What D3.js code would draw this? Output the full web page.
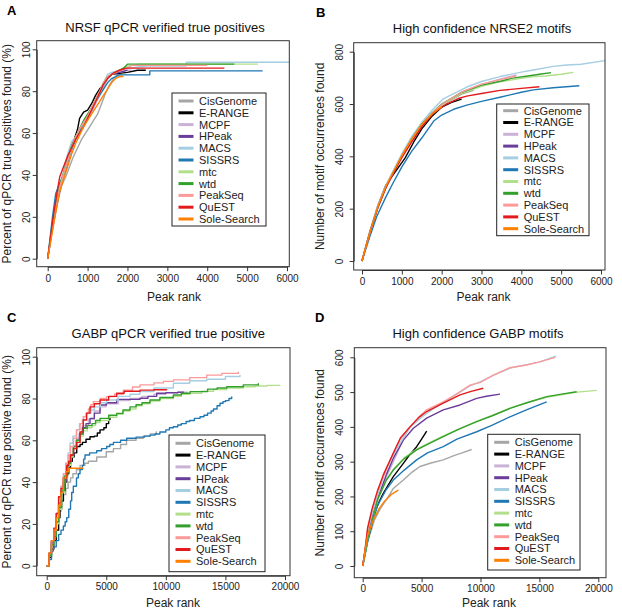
<!DOCTYPE html>
<html><head><meta charset="utf-8">
<script src="https://cdn.jsdelivr.net/npm/d3@7"></script>
<style>
body{margin:0;background:#fff}
svg{display:block;font-family:"Liberation Sans",Arial,Helvetica,sans-serif}
</style>
</head><body>
<svg id="chart" width="622" height="615"></svg>
<script>
// ---------------- data ----------------
const methods = ["CisGenome","E-RANGE","MCPF","HPeak","MACS","SISSRS","mtc","wtd","PeakSeq","QuEST","Sole-Search"];
const methodColors = ["#a6a6a6","#000000","#cab2d6","#6a3d9a","#a6cee3","#1f78b4","#b2df8a","#33a02c","#fb9a99","#e31a1c","#ff7f00"];

const ticksRank6k = [0,1000,2000,3000,4000,5000,6000];
const ticksRank20k = [0,5000,10000,15000,20000];
const ticksPct = [0,20,40,60,80,100];
const ticksNrse = [0,200,400,600,800];
const ticksGabp = [0,100,200,300,400,500,600];

// A: NRSF qPCR verified true positives  [peak rank, percent]
const nrsfQpcr = [
 [[0,0],[60,8],[150,17],[250,27],[350,35],[450,39],[550,44],[650,49],[750,53],[850,57],[950,60],[1050,63],[1150,66],[1250,69],[1350,74],[1450,79],[1550,83],[1650,86],[1750,88],[1850,88]],
 [[0,0],[80,10],[150,18],[250,28],[350,37],[450,43],[550,50],[650,56],[750,62],[800,67],[900,70],[1000,71],[1100,74],[1200,78],[1300,81],[1400,83],[1500,86],[1600,88],[1800,88.5],[2000,89],[2250,90],[2460,90]],
 [[0,0],[100,12],[200,23],[300,33],[400,40],[500,47],[600,53],[700,57],[800,61],[900,64],[1000,67],[1100,70],[1200,74],[1300,78],[1400,82],[1500,86],[1600,88],[1700,89],[1900,90],[2100,90]],
 [[0,0],[100,13],[200,24],[300,34],[400,41],[500,48],[600,53],[700,58],[800,62],[900,65],[1000,68],[1100,71],[1200,75],[1300,79],[1400,83],[1500,86],[1600,88],[1800,89],[2000,90]],
 [[0,0],[100,14],[200,25],[300,35],[400,42],[500,50],[600,56],[700,58],[800,61],[900,64],[1000,67],[1100,71],[1200,75],[1300,79],[1400,84],[1500,88],[1600,89],[1800,90],[2000,91],[2500,92],[3475,92],[3475,93.8],[6300,93.8]],
 [[0,0],[60,10],[120,20],[200,31],[300,36],[400,40],[500,46],[600,52],[700,57],[800,61],[900,65],[1000,68],[1100,72],[1200,75],[1300,78],[1400,81],[1500,84],[1600,86],[1800,87.8],[2560,87.8],[2560,89.7],[5390,89.7]],
 [[0,0],[100,12],[200,24],[300,34],[400,40],[500,47],[600,53],[700,58],[800,62],[900,65],[1000,68],[1100,72],[1200,75],[1300,79],[1400,83],[1500,86],[1600,88],[1800,90],[2000,92],[2300,92.9],[5270,92.9]],
 [[0,0],[100,13],[200,25],[300,35],[400,41],[500,48],[600,54],[700,58],[800,62],[900,66],[1000,69],[1100,72],[1200,76],[1300,80],[1400,84],[1500,87],[1700,89],[1900,91],[2000,92.9],[4680,92.9]],
 [[0,0],[100,12],[200,24],[300,34],[400,41],[500,47],[600,53],[700,58],[800,62],[900,65],[1000,68],[1100,72],[1200,76],[1300,80],[1400,84],[1500,87],[1700,89],[2000,91],[2100,92.3],[4000,92.3]],
 [[0,0],[70,10],[140,20],[220,30],[300,39],[400,44],[500,49],[600,53],[700,57],[800,60],[900,63],[1000,67],[1140,72.6],[1250,77],[1390,83],[1500,86],[1640,88.6],[1800,90],[1970,91],[4430,91]],
 [[0,0],[100,11],[200,22],[300,32],[400,38],[500,44],[600,50],[700,55],[800,59],[900,63],[1000,66],[1100,69],[1200,72],[1300,75],[1400,78],[1500,81],[1600,84],[1700,86],[1800,87],[1900,87]]
];

// B: High confidence NRSE2 motifs  [peak rank, motif occurrences]
const nrseMotifs = [
 [[0,0],[100,55],[200,108],[400,205],[600,280],[800,340],[1000,398],[1250,462],[1500,518],[1750,558],[2000,592],[2250,618],[2500,638],[2800,652]],
 [[0,0],[100,58],[200,113],[400,212],[600,290],[830,340],[1080,393],[1300,455],[1500,505],[1750,552],[2000,588],[2250,606],[2500,619]],
 [[0,0],[100,55],[200,110],[400,207],[600,282],[800,342],[1000,400],[1250,465],[1500,520],[1750,562],[2000,597],[2500,645],[3000,675],[3500,697],[3880,711]],
 [[0,0],[100,55],[200,110],[400,206],[600,281],[800,341],[1000,400],[1250,464],[1500,519],[1750,560],[2000,595],[2500,640],[2900,668]],
 [[0,0],[100,60],[200,115],[400,215],[600,290],[800,350],[1000,410],[1250,476],[1500,530],[1750,575],[2040,620],[2630,665],[3000,686],[3465,705],[4000,722],[4300,730],[4800,744],[5140,749],[5500,752],[6100,766]],
 [[0,0],[100,48],[200,95],[368,169],[600,245],[786,300],[1000,360],[1250,420],[1500,470],[1800,535],[2000,558],[2300,580],[2630,596],[3000,610],[3465,626],[4000,645],[4300,654],[4800,662],[5455,670]],
 [[0,0],[100,55],[200,110],[400,206],[600,282],[800,342],[1000,400],[1250,465],[1500,520],[1750,560],[2000,595],[2500,640],[3000,668],[3465,685],[4000,698],[4300,705],[4600,707],[5000,714],[5306,721]],
 [[0,0],[100,55],[200,110],[400,206],[600,283],[800,343],[1000,402],[1250,467],[1500,523],[1750,565],[2000,600],[2500,645],[3000,672],[3500,688],[3740,698],[4200,708],[4500,715],[4745,720]],
 [[0,0],[100,55],[200,110],[400,207],[600,283],[800,343],[1000,401],[1250,466],[1500,521],[1750,563],[2000,598],[2500,646],[3000,676],[3500,694],[3870,707]],
 [[0,0],[100,55],[200,110],[400,205],[600,280],[800,340],[1000,395],[1250,455],[1500,513],[1790,565],[2126,600],[2400,620],[2628,630],[3000,640],[3465,652],[4000,660],[4452,666]],
 [[0,0],[100,56],[200,111],[400,208],[600,285],[800,345],[1000,403],[1250,467],[1500,522],[1750,560],[2000,590]]
];

// C: GABP qPCR verified true positive  [peak rank, percent]
const gabpQpcr = [
 [[0,0],[200,5],[400,11],[600,16],[800,21],[1000,26],[1200,31],[1400,34],[1600,37],[1800,40],[2000,42],[2200,44],[2500,46],[2800,48],[3200,49],[3500,50],[4200,52],[5000,54.5],[5600,56],[6200,58],[6700,60],[7500,61],[8100,62],[8700,63],[9200,64],[9250,64]],
 [[0,0],[200,4],[400,8],[600,12],[800,17],[1000,23],[1115,27],[1250,31],[1400,36],[1550,40],[1680,44],[1850,47],[2000,50],[2150,52],[2300,54],[2520,57],[2800,58],[3000,59],[3300,60.5],[3635,61.7],[4000,62],[4250,63.5],[4475,65],[4800,66],[5000,68],[5200,70],[5310,71.3]],
 [[0,0],[200,6],[400,11],[600,16],[800,23],[1000,30],[1200,35],[1400,40],[1600,45],[1800,49],[2000,53],[2250,57],[2500,61],[2750,64],[3000,67],[3500,70],[4000,74],[4500,76],[5000,77.5],[6000,79],[7000,80],[8000,81],[9000,82],[10000,82.5],[11000,83],[11800,83.3]],
 [[0,0],[200,6],[400,11],[600,16],[800,23],[1000,30],[1200,35],[1400,40],[1600,45],[1800,49],[2000,53],[2250,57],[2500,60],[2750,63],[3000,66],[3300,68],[3635,70.5],[4000,73],[4475,76.9],[5000,78],[5875,79.6],[7830,80.1],[8500,81],[9230,82.5],[10000,82.8],[11000,83],[11465,83.3]],
 [[0,0],[200,6],[400,12],[600,17],[800,25],[1000,32],[1200,38],[1400,43],[1600,49],[1800,54],[1955,58.6],[2200,62],[2500,65],[2750,68],[3000,70],[3355,72.9],[3700,74.5],[4000,76],[4500,78],[5035,79.3],[6000,81],[7000,82],[7830,83.3],[9000,85],[10630,87.3],[12000,88.5],[13430,89.2],[15000,90.5],[16225,91.2]],
 [[0,0],[200,3],[400,7],[560,9],[800,12],[1000,15],[1200,17],[1400,19],[1550,21],[1680,23],[1850,27],[2000,31],[2100,35],[2235,38],[2500,42],[2650,44],[2795,46],[3000,48],[3100,51],[3215,53],[3600,54],[4200,55],[4600,56],[5035,57],[5300,58],[5600,59],[6200,60],[6714,61],[7500,61.5],[8200,62],[8670,62.5],[9100,63],[9500,64],[10000,65],[10300,66],[10630,66.5],[11000,67.3],[11300,68],[11700,69],[12000,69.5],[12400,70.5],[12870,71.3],[13200,72],[13500,73],[13800,74],[14000,75],[14300,76.5],[14545,77.7],[14800,78.5],[15000,79],[15300,80],[15525,81]],
 [[0,0],[200,5],[400,10],[600,14],[800,20],[1000,27],[1250,35],[1500,42],[1750,48],[2000,52],[2235,56],[2500,59],[2800,62],[3070,64.5],[3400,66],[3800,67],[4100,68.5],[4475,69.5],[5200,71],[5875,72.5],[6400,74],[7000,75],[7500,76.5],[8000,77.5],[8670,78.8],[9500,80],[10630,81],[11300,82],[12030,82.5],[13000,83.5],[14000,84.3],[15110,85],[16500,85.6],[17500,86],[18500,86.3],[19580,86.5]],
 [[0,0],[200,5],[400,10],[600,14],[800,21],[1000,28],[1250,36],[1500,43],[1750,49],[2000,53],[2235,57],[2500,60],[2800,63],[3070,65.7],[3400,67],[3800,68],[4100,69.5],[4475,70.5],[5200,72],[5875,72.9],[6400,74.5],[6990,76],[7500,77],[8000,78],[8670,79.3],[9500,80.5],[10630,81.7],[11300,82.5],[12030,83.3],[13500,84.5],[14300,85],[15110,85.6],[16500,86.5],[17760,87.3]],
 [[0,0],[200,6],[400,12],[600,17],[800,25],[1000,33],[1200,38],[1400,44],[1600,49],[1800,53],[2000,57],[2250,61],[2500,65],[2800,68],[3070,71.3],[3300,73],[3500,75],[3700,77],[3915,78.5],[4500,80],[5035,80.9],[5700,82],[6430,84],[7200,85.5],[7830,86.5],[9000,87.5],[9800,88.2],[10630,88.9],[12000,90],[13430,91.2],[14700,92],[16085,92.8]],
 [[0,0],[200,6],[400,12],[600,18],[800,25],[1000,33],[1200,37],[1400,42],[1680,48],[1850,50],[2000,53],[2250,56],[2520,59],[2800,64],[3070,69.7],[3350,73],[3635,76],[4000,77.5],[4475,79.3],[5200,81],[5875,82.5],[6500,83.5],[7830,84],[9000,84.2],[10070,84.4]],
 [[0,0],[200,6],[400,12],[600,17],[800,23],[1000,29],[1200,35],[1400,42],[1600,45],[1815,46.6],[3070,46.6]]
];

// D: High confidence GABP motifs  [peak rank, motif occurrences]
const gabpMotifs = [
 [[0,0],[200,35],[420,70],[700,100],[970,130],[1500,165],[2100,195],[2600,223],[3450,247],[4200,270],[4865,286],[5800,296],[6840,305],[7800,318],[8500,326],[9250,335]],
 [[0,0],[200,38],[420,75],[700,110],[970,150],[1400,185],[1750,209],[2200,235],[2600,257],[3000,275],[3450,295],[4000,320],[4580,343],[5000,365],[5430,388]],
 [[0,0],[200,40],[420,85],[700,125],[1000,165],[1500,210],[2000,255],[2600,300],[3200,345],[3850,395]],
 [[0,0],[200,42],[420,90],[700,130],[1000,170],[1500,215],[2000,262],[2600,310],[3450,362],[4300,396],[5430,425],[6840,449],[8260,463],[9680,482],[10500,488],[11655,494]],
 [[0,0],[200,40],[420,100],[800,150],[1270,205],[2000,280],[2600,320],[3200,355],[4015,398],[5000,428],[6000,452],[6840,470],[8000,495],[9110,518],[10000,530],[11090,548],[12590,570],[13920,579],[15000,586],[16400,603]],
 [[0,0],[200,32],[420,70],[700,110],[1270,175],[2000,220],[2600,247],[3500,275],[4580,305],[5500,325],[6840,343],[8000,365],[9680,386],[11000,405],[12500,429],[14000,450],[15620,472]],
 [[0,0],[200,35],[420,78],[700,115],[1270,190],[2000,245],[2600,278],[3500,310],[4580,336],[5500,352],[6840,374],[8260,395],[9680,416],[11000,433],[12500,454],[14000,470],[15620,485],[17000,493],[18200,500],[19860,505]],
 [[0,0],[200,35],[420,78],[700,115],[1270,192],[2000,247],[2600,276],[3500,308],[4580,334],[5500,350],[6840,372],[8260,395],[9680,415],[11000,432],[12500,453],[14000,470],[15620,487],[17000,495],[18165,501]],
 [[0,0],[200,45],[420,105],[800,160],[1270,214],[1750,257],[2600,324],[3200,365],[4015,400],[4800,430],[5430,449],[6840,472],[8000,495],[9110,520],[10000,528],[11090,549],[12500,570],[13920,578],[15000,587],[16324,600]],
 [[0,0],[200,48],[420,110],[800,165],[1270,218],[1750,262],[2600,325],[3200,368],[4015,400],[4800,428],[5430,444],[6840,468],[8260,492],[9200,502],[10240,511]],
 [[0,0],[200,45],[420,89],[700,115],[970,137],[1400,165],[1820,185],[2400,205],[3025,218]]
];

// ---------------- layout ----------------
const panels = [
 {letter:"A", lx:7, ly:15, title:"NRSF qPCR verified true positives", tx:165, ty:31.5,
  ylab:"Percent of qPCR true positives found (%)", ylx:10.5, xlabX:174, xlabY:300.5,
  data:nrsfQpcr, curve:d3.curveLinear, xMax:6000, yMax:100, xTicks:ticksRank6k, yTicks:ticksPct,
  box:[36.7,40.7,289.3,266.7], xr:[47.7,287], yr:[258.7,49.3], ytl:30, xpad:4,
  leg:[172,93,266,226], legY0:101},
 {letter:"B", lx:316, ly:16.5, title:"High confidence NRSE2 motifs", tx:482, ty:33,
  ylab:"Number of motif occurrences found", ylx:323.5, xlabX:483.5, xlabY:300.5,
  data:nrseMotifs, curve:d3.curveLinear, xMax:6000, yMax:800, xTicks:ticksRank6k, yTicks:ticksNrse,
  box:[353.7,42.7,605,270], xr:[362,601], yr:[261,51.7], ytl:343, xpad:3,
  leg:[496.7,104,589,235.7], legY0:110.7},
 {letter:"C", lx:7, ly:321.7, title:"GABP qPCR verified true positive", tx:168.3, ty:338,
  ylab:"Percent of qPCR true positive found (%)", ylx:10.5, xlabX:173, xlabY:606.5,
  data:gabpQpcr, curve:d3.curveStepAfter, xMax:20000, yMax:100, xTicks:ticksRank20k, yTicks:ticksPct,
  box:[36.7,347.7,290,575.7], xr:[46.7,285], yr:[565.7,356.7], ytl:30, xpad:3,
  leg:[169,435,265,571.7], legY0:443.3},
 {letter:"D", lx:315, ly:321.7, title:"High confidence GABP motifs", tx:478, ty:338,
  ylab:"Number of motif occurrences found", ylx:323.5, xlabX:489, xlabY:606.5,
  data:gabpMotifs, curve:d3.curveLinear, xMax:20000, yMax:600, xTicks:ticksRank20k, yTicks:ticksGabp,
  box:[354.3,347.7,606,577.7], xr:[362.7,598.3], yr:[566,357.3], ytl:343, xpad:3,
  leg:[487.7,434.3,580,570], legY0:442.3}
];

const svg = d3.select("#chart");
svg.append("rect").attr("width",622).attr("height",615).attr("fill","#fff");
const defs = svg.append("defs");
const fmt = d3.format("d");

panels.forEach((p, pi) => {
  const g = svg.append("g");
  const [bx0, by0, bx1, by1] = p.box;
  const x = d3.scaleLinear().domain([0, p.xMax]).range(p.xr);
  const y = d3.scaleLinear().domain([0, p.yMax]).range(p.yr);

  defs.append("clipPath").attr("id", "clip" + pi)
    .append("rect").attr("x", bx0).attr("y", by0).attr("width", bx1 - bx0).attr("height", by1 - by0);

  const line = d3.line().x(d => x(d[0])).y(d => y(d[1])).curve(p.curve);

  const lines = g.append("g").attr("clip-path", `url(#clip${pi})`);
  p.data.forEach((pts, i) => {
    lines.append("path").datum(pts).attr("d", line)
      .attr("fill", "none").attr("stroke", methodColors[i])
      .attr("stroke-width", 1.4).attr("stroke-linejoin", "round");
  });

  // frame
  g.append("rect").attr("x", bx0).attr("y", by0).attr("width", bx1 - bx0).attr("height", by1 - by0)
    .attr("fill", "none").attr("stroke", "#333").attr("stroke-width", 1);

  // x axis
  const xa = g.append("g").attr("transform", `translate(0,${by1})`)
    .call(d3.axisBottom(x).tickValues(p.xTicks).tickFormat(fmt).tickSize(4.5).tickPadding(p.xpad).tickSizeOuter(0));
  xa.attr("font-family", null);
  xa.selectAll("text").attr("font-size", 10).attr("fill", "#222");
  xa.selectAll("line,path").attr("stroke", "#333");

  // y axis
  const ya = g.append("g").attr("transform", `translate(${bx0},0)`)
    .call(d3.axisLeft(y).tickValues(p.yTicks).tickFormat(fmt).tickSize(4).tickSizeOuter(0));
  ya.attr("font-family", null);
  ya.selectAll("line,path").attr("stroke", "#333");
  ya.selectAll("text")
    .attr("font-size", 10).attr("fill", "#222")
    .attr("x", null).attr("dy", null).attr("y", 0)
    .attr("text-anchor", "middle")
    .attr("transform", `translate(${p.ytl - bx0},0) rotate(-90)`);

  // title
  g.append("text").attr("x", p.tx).attr("y", p.ty).attr("text-anchor", "middle")
    .attr("font-size", 13).attr("fill", "#111").text(p.title);
  // panel letter
  g.append("text").attr("x", p.lx).attr("y", p.ly).attr("font-size", 13)
    .attr("font-weight", "bold").attr("fill", "#000").text(p.letter);
  // axis titles
  g.append("text").attr("x", p.xlabX).attr("y", p.xlabY).attr("text-anchor", "middle")
    .attr("font-size", 12).attr("fill", "#222").text("Peak rank");
  g.append("text").attr("transform", `translate(${p.ylx},${(by0 + by1) / 2}) rotate(-90)`)
    .attr("text-anchor", "middle").attr("font-size", 12).attr("fill", "#222").text(p.ylab);

  // legend
  const [lx0, ly0, lx1, ly1] = p.leg;
  const lg = g.append("g");
  lg.append("rect").attr("x", lx0).attr("y", ly0).attr("width", lx1 - lx0).attr("height", ly1 - ly0)
    .attr("fill", "#fff").attr("stroke", "#222").attr("stroke-width", 1);
  const rowStep = 11.8;
  methods.forEach((m, i) => {
    const yy = p.legY0 + i * rowStep;
    lg.append("line").attr("x1", lx0 + 6.5).attr("x2", lx0 + 21.5).attr("y1", yy).attr("y2", yy)
      .attr("stroke", methodColors[i]).attr("stroke-width", 3);
    lg.append("text").attr("x", lx0 + 27).attr("y", yy).attr("dy", "0.36em")
      .attr("font-size", 11).attr("fill", "#222").text(m);
  });
});
</script>
</body></html>
